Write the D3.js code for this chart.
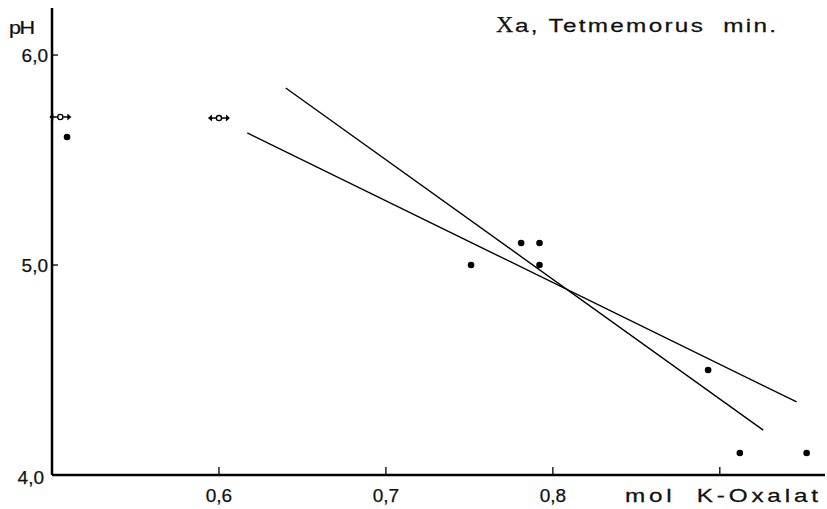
<!DOCTYPE html>
<meta charset="utf-8">
<script src="https://d3js.org/d3.v7.min.js"></script>
<style>
  body { margin: 0; background: #fff; }
  text { font-family: "Liberation Sans", Arial, sans-serif; fill: #111; stroke: #111; stroke-width: 0.25px; white-space: pre; }
</style>
<svg id="chart" width="827" height="509"></svg>
<script>

// measured points (mol K-Oxalat, pH)
var pointX = [0.509, 0.751, 0.781, 0.792, 0.792, 0.893, 0.912, 0.952];
var pointY = [5.61, 5.0, 5.105, 5.105, 5.0, 4.50, 4.105, 4.105];

// open circles with range arrows
var openX = [0.505, 0.600];
var openY = [5.705, 5.700];

// regression lines: [x1, y1, x2, y2]
var lineSteep = [0.640, 5.843, 0.926, 4.214];
var lineFlat = [0.617, 5.629, 0.946, 4.348];

var xTicks = [0.6, 0.7, 0.8, 0.9];
var xTickLabels = ["0,6", "0,7", "0,8", ""];
var yTicks = [5.0, 6.0];
var yTickLabels = ["5,0", "6,0"];

var svg = d3.select("#chart");

var x = d3.scaleLinear().domain([0.5, 0.963]).range([52, 825]);
var y = d3.scaleLinear().domain([4.0, 6.224]).range([475, 8]);

// stretched, spaced text like the old typewriter lettering
function wideText(px, py, str, width, size, sx) {
  return svg.append("text")
    .attr("transform", "translate(" + px + "," + py + ") scale(" + sx + ",1)")
    .attr("textLength", width / sx)
    .attr("lengthAdjust", "spacing")
    .style("font-size", size + "px")
    .text(str);
}

// axes
svg.append("line")
  .attr("x1", x(0.5)).attr("x2", x(0.963))
  .attr("y1", y(4.0)).attr("y2", y(4.0))
  .attr("stroke", "#000").attr("stroke-width", 2.5);
svg.append("line")
  .attr("x1", x(0.5)).attr("x2", x(0.5))
  .attr("y1", y(4.0)).attr("y2", y(6.224))
  .attr("stroke", "#000").attr("stroke-width", 2.5);

// x ticks point up into the plot
svg.selectAll(".xtick")
  .data(xTicks)
  .enter().append("line")
    .attr("x1", function(d) { return x(d); })
    .attr("x2", function(d) { return x(d); })
    .attr("y1", y(4.0)).attr("y2", y(4.0) - 8)
    .attr("stroke", "#000").attr("stroke-width", 1.3);

svg.selectAll(".xlab")
  .data(xTicks)
  .enter().append("text")
    .attr("x", function(d) { return x(d); })
    .attr("y", 502)
    .attr("text-anchor", "middle")
    .style("font-size", "19px")
    .text(function(d, i) { return xTickLabels[i]; });

// y ticks point right into the plot
svg.selectAll(".ytick")
  .data(yTicks)
  .enter().append("line")
    .attr("x1", x(0.5)).attr("x2", x(0.5) + 6)
    .attr("y1", function(d) { return y(d); })
    .attr("y2", function(d) { return y(d); })
    .attr("stroke", "#000").attr("stroke-width", 1.3);

svg.selectAll(".ylab")
  .data(yTicks)
  .enter().append("text")
    .attr("x", 48)
    .attr("y", function(d) { return y(d) + 7; })
    .attr("text-anchor", "end")
    .style("font-size", "19px")
    .text(function(d, i) { return yTickLabels[i]; });

svg.append("text")
  .attr("x", 44).attr("y", 484)
  .attr("text-anchor", "end")
  .style("font-size", "19px")
  .text("4,0");

wideText(9, 34, "pH", 26, 18, 1.2);
wideText(625, 502, "mol  K-Oxalat", 193, 18, 1.35);

// title
svg.append("text")
  .attr("x", 496).attr("y", 32)
  .style("font-family", "'Liberation Serif', serif")
  .style("font-size", "24px")
  .text("X");
wideText(515, 32, "a, Tetmemorus  min.", 261, 18, 1.35);

// regression lines
[lineSteep, lineFlat].forEach(function(l) {
  svg.append("line")
    .attr("x1", x(l[0])).attr("y1", y(l[1]))
    .attr("x2", x(l[2])).attr("y2", y(l[3]))
    .attr("stroke", "#000").attr("stroke-width", 1.4);
});

// filled points
svg.selectAll(".pt")
  .data(pointX)
  .enter().append("circle")
    .attr("cx", function(d) { return x(d); })
    .attr("cy", function(d, i) { return y(pointY[i]); })
    .attr("r", 3.3)
    .attr("fill", "#000");

// open circles with double arrows
var open = svg.selectAll(".open")
  .data(openX)
  .enter().append("g")
    .attr("transform", function(d, i) { return "translate(" + x(d) + "," + y(openY[i]) + ")"; });

open.append("line")
  .attr("x1", -10).attr("x2", -3).attr("y1", 0).attr("y2", 0)
  .attr("stroke", "#000").attr("stroke-width", 1.5);
open.append("line")
  .attr("x1", 3).attr("x2", 10).attr("y1", 0).attr("y2", 0)
  .attr("stroke", "#000").attr("stroke-width", 1.5);
open.append("path")
  .attr("d", "M-11,0 L-7,-3.5 L-7,3.5 Z M11,0 L7,-3.5 L7,3.5 Z")
  .attr("fill", "#000");
open.append("circle")
  .attr("r", 2.6)
  .attr("fill", "#fff")
  .attr("stroke", "#000")
  .attr("stroke-width", 1.4);

</script>
